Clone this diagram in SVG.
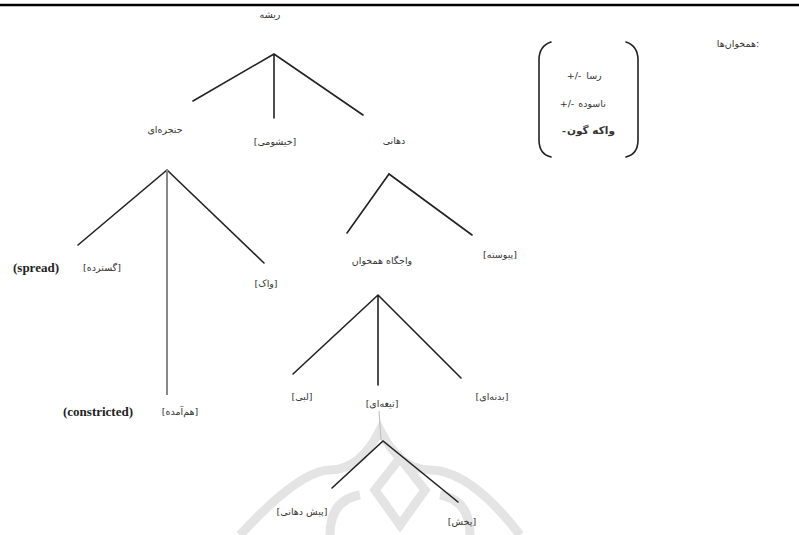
<svg xmlns="http://www.w3.org/2000/svg" width="799" height="535" viewBox="0 0 799 535">
<style>
.fa{font-family:"DejaVu Sans","Noto Sans",sans-serif;font-size:9.5px;fill:#333;text-anchor:middle}
.en{font-family:"Liberation Serif",serif;font-size:13px;font-weight:bold;fill:#222}
.ln{stroke:#222;stroke-width:1.6;fill:none;stroke-linecap:round}
.gl{stroke:#888;stroke-width:2;fill:none}
.wm{stroke:#e4e4e4;stroke-width:9;fill:none}
</style>
<rect width="799" height="535" fill="#fff"/>
<g id="watermark">
<path class="wm" d="M240 535 Q300 470 330 470 Q360 470 380 430 Q400 470 430 470 Q470 470 520 535"/>
<path class="wm" d="M400 458 L425 490 L400 525 L375 490 Z"/>
<path class="wm" d="M330 535 Q330 500 360 495"/>
<path class="wm" d="M470 535 Q470 500 440 495"/>
</g>
<line x1="0" y1="5" x2="799" y2="5" stroke="#000" stroke-width="2.5"/>
<g id="connectors">
<path class="ln" d="M193 101 L274 54 L363 115 M274 54 L274 118"/>
<path class="ln" d="M78 245 L167 170 L264 263"/>
<line class="gl" x1="167" y1="170" x2="167" y2="395"/>
<path class="ln" d="M347 233 L389 174 L472 235"/>
<path class="ln" d="M293 374 L378 295 L461 378 M378 295 L378 385"/>
<line x1="379" y1="411" x2="381" y2="440" stroke="#bbb" stroke-width="1"/>
<path class="ln" d="M332 488 L383 441 L458 502"/>
</g>
<g id="n-root"><text class="fa" x="270" y="18">ریشه</text></g>
<g id="n-laryngeal"><text class="fa" x="165" y="133">حنجره‌ای</text></g>
<g id="n-nasal"><text class="fa" x="275" y="145">[خیشومی]</text></g>
<g id="n-oral"><text class="fa" x="394" y="144">دهانی</text></g>
<g id="n-spread"><text class="en" x="13" y="272">(spread)</text><text class="fa" x="102" y="271">[گسترده]</text></g>
<g id="n-voice"><text class="fa" x="266" y="287">[واک]</text></g>
<g id="n-constricted"><text class="en" x="63" y="416">(constricted)</text><text class="fa" x="180" y="415">[هم‌آمده]</text></g>
<g id="n-continuant"><text class="fa" x="500" y="258">[پیوسته]</text></g>
<g id="n-place"><text class="fa" x="382" y="264">واجگاه همخوان</text></g>
<g id="n-labial"><text class="fa" x="302" y="400">[لبی]</text></g>
<g id="n-coronal"><text class="fa" x="382" y="407">[تیغه‌ای]</text></g>
<g id="n-dorsal"><text class="fa" x="492" y="400">[بدنه‌ای]</text></g>
<g id="n-anterior"><text class="fa" x="302" y="515">[پیش دهانی]</text></g>
<g id="n-distributed"><text class="fa" x="462" y="525">[پخش]</text></g>
<g id="n-consonants"><text class="fa" x="738" y="47">همخوان‌ها:</text></g>
<g id="n-bracket">
<path class="ln" d="M551 42 Q539 46 539 60 L539 140 Q539 154 551 157"/>
<path class="ln" d="M626 42 Q638 46 638 60 L638 140 Q638 154 626 157"/>
<text class="fa" x="574" y="79">+/-</text>
<text class="fa" x="594" y="79">رسا</text>
<text class="fa" x="567" y="107">+/-</text>
<text class="fa" x="592" y="107">ناسوده</text>
<text class="fa" x="564" y="134" style="font-weight:bold">-</text>
<text class="fa" x="591" y="134" style="font-size:10.5px;font-weight:bold">واکه گون</text>
</g>
</svg>
